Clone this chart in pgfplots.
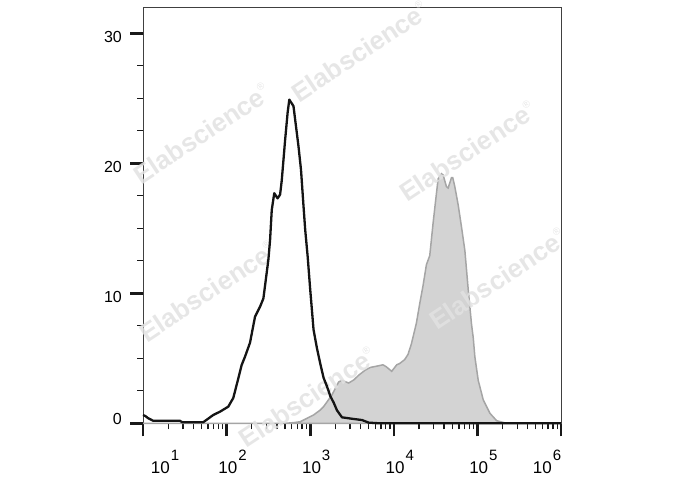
\documentclass[border=0pt]{standalone}
\usepackage{pgfplots}
\pgfplotsset{compat=1.18}
\usepackage{fontspec}
\setmainfont{Liberation Sans}
\definecolor{grayfill}{RGB}{211,211,211}
\definecolor{grayedge}{RGB}{165,165,165}
\definecolor{wm}{RGB}{226,226,226}
\newcommand{\ep}[1]{\fontsize{17}{20}\selectfont 10\kern1pt\raisebox{13pt}{\fontsize{15}{18}\selectfont #1}}
\newcommand{\wmark}{Elabscience\raisebox{13pt}{\fontsize{10}{12}\selectfont\mdseries ®}}
\begin{document}
\begin{tikzpicture}
\useasboundingbox (0,0) rectangle (688pt,490pt);
\begin{axis}[
  at={(143pt,66.7pt)}, anchor=south west,
  scale only axis, width=418pt, height=416pt,
  xmin=1, xmax=6, ymin=0, ymax=32,
  clip=false,
  axis line style={black!75, line width=0.8pt},
  tick align=outside,
  xtick pos=bottom, ytick pos=left,
  major tick length=13pt, minor tick length=6pt,
  major tick style={line width=2.6pt, black!90},
  minor tick style={line width=1.3pt, black!90},
  xtick={1,2,3,4,5,6},
  xticklabels={\hspace*{44pt}\ep{1},\hspace*{12pt}\ep{2},\hspace*{12pt}\ep{3},\hspace*{12pt}\ep{4},\hspace*{12pt}\ep{5},\ep{6}\hspace*{28pt}},
  minor xtick={1.30103,1.47712,1.60206,1.69897,1.77815,1.84510,1.90309,1.95424,
               2.30103,2.47712,2.60206,2.69897,2.77815,2.84510,2.90309,2.95424,
               3.30103,3.47712,3.60206,3.69897,3.77815,3.84510,3.90309,3.95424,
               4.30103,4.47712,4.60206,4.69897,4.77815,4.84510,4.90309,4.95424,
               5.30103,5.47712,5.60206,5.69897,5.77815,5.84510,5.90309,5.95424},
  ytick={0,10,20,30},
  yticklabels={\raisebox{16pt}{0},10,20,30},
  minor ytick={2.5,5,7.5,12.5,15,17.5,22.5,25,27.5},
  xticklabel style={inner sep=0pt, yshift=-14pt},
  yticklabel style={font=\fontsize{16}{19}\selectfont, inner sep=0pt, xshift=-8pt, yshift=-4pt},
]
\addplot[fill=grayfill, draw=grayedge, line width=1.5pt] table {
1.00 0
2.70 0
2.80 0.05
2.88 0.12
3.04 0.64
3.12 1.02
3.16 1.28
3.26 2.18
3.34 3.18
3.38 3.3
3.46 3.1
3.52 3.33
3.58 3.7
3.66 4.1
3.72 4.3
3.80 4.4
3.87 4.5
3.91 4.35
3.975 4.0
4.035 4.5
4.07 4.6
4.13 4.9
4.17 5.3
4.21 6.1
4.27 7.7
4.31 9.2
4.35 10.6
4.39 12.2
4.43 12.9
4.47 15.4
4.505 17.4
4.53 18.8
4.57 19.2
4.59 19.1
4.63 18.2
4.65 18.1
4.69 18.9
4.705 18.9
4.73 18.2
4.77 16.8
4.81 15.1
4.85 13.3
4.89 10.3
4.93 7.6
4.95 6.6
4.97 5.1
5.01 3.3
5.07 1.8
5.15 0.77
5.23 0.2
5.35 0
6.00 0
} \closedcycle;
\begin{scope}[every node/.style={rotate=33.5, font=\fontsize{26}{30}\selectfont\bfseries, text=wm, opacity=0.85, inner sep=0pt}]
\node at (rel axis cs:0.140,0.697) {\wmark};
\node at (rel axis cs:0.518,0.894) {\wmark};
\node at (rel axis cs:0.776,0.654) {\wmark};
\node at (rel axis cs:0.154,0.317) {\wmark};
\node at (rel axis cs:0.848,0.347) {\wmark};
\node at (rel axis cs:0.393,0.063) {\wmark};
\end{scope}
\addplot[draw=black!92, line width=2.3pt, line join=round] table {
1.000 0.64
1.03 0.55
1.06 0.40
1.12 0.20
1.44 0.20
1.47 0.08
1.72 0.08
1.77 0.31
1.84 0.64
1.92 0.89
2.02 1.28
2.08 1.95
2.12 2.95
2.18 4.48
2.22 5.12
2.28 6.2
2.34 8.2
2.40 8.97
2.44 9.6
2.46 10.6
2.50 12.6
2.52 14.1
2.54 16.4
2.57 17.7
2.61 17.3
2.64 17.6
2.66 18.7
2.70 21.8
2.73 23.9
2.75 24.9
2.80 24.4
2.86 21.3
2.89 19.5
2.92 16.7
2.94 14.9
2.97 12.8
3.00 10.3
3.04 7.2
3.08 5.8
3.12 4.6
3.16 3.5
3.20 2.85
3.24 2.1
3.28 1.6
3.32 1.0
3.38 0.46
3.50 0.35
3.62 0.25
3.70 0.05
3.83 0
6.00 0
};
\end{axis}
\end{tikzpicture}
\end{document}
